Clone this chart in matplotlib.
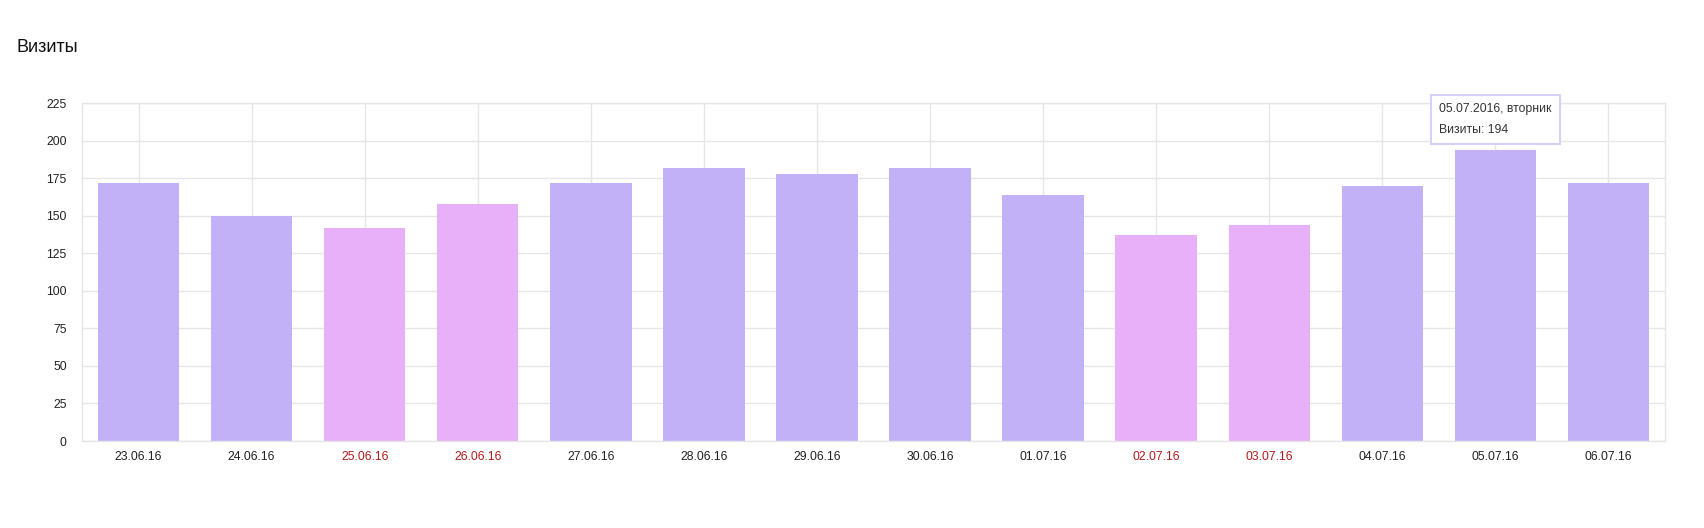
import matplotlib
matplotlib.use('Agg')
import matplotlib.pyplot as plt

plt.rcParams['font.family'] = ['Liberation Sans', 'DejaVu Sans']

# data
dates = ['23.06.16', '24.06.16', '25.06.16', '26.06.16', '27.06.16', '28.06.16', '29.06.16',
         '30.06.16', '01.07.16', '02.07.16', '03.07.16', '04.07.16', '05.07.16', '06.07.16']
visits = [172, 150, 142, 158, 172, 182, 178, 182, 164, 137, 144, 170, 194, 172]
weekend = [False, False, True, True, False, False, False, False, False, True, True, False, False, False]
yticks = [0, 25, 50, 75, 100, 125, 150, 175, 200, 225]

weekday_color = '#c3b1f8'
weekend_color = '#e8b0f8'
grid_color = '#e6e6e6'

fig = plt.figure(figsize=(17.04, 5.28), dpi=100)
ax = fig.add_axes([82 / 1704, 1 - 441 / 528, (1665 - 82) / 1704, (441 - 103) / 528])

x = list(range(len(dates)))
colors = [weekend_color if w else weekday_color for w in weekend]
ax.bar(x, visits, width=0.72, color=colors, zorder=2)

ax.set_xlim(-0.5, len(dates) - 0.5)
ax.set_ylim(0, 225)
ax.set_yticks(yticks)
ax.set_xticks(x)
ax.set_xticklabels(dates)

ax.tick_params(axis='both', length=0, labelsize=8.8, labelcolor='#222222')
ax.tick_params(axis='y', pad=11)
ax.tick_params(axis='x', pad=7)
for lbl, w in zip(ax.get_xticklabels(), weekend):
    lbl.set_color('#b01c1c' if w else '#222222')

ax.grid(True, color=grid_color, linewidth=1, zorder=0)
ax.set_axisbelow(True)
for side in ['left', 'right', 'bottom', 'top']:
    ax.spines[side].set_color(grid_color)
    ax.spines[side].set_linewidth(1)

# tooltip over the hovered bar
i = 12
ax.annotate(f'05.07.2016, вторник\nВизиты: {visits[i]}', xy=(i, visits[i]),
            xytext=(0, 10), textcoords='offset points', ha='center', va='bottom',
            multialignment='left', fontsize=8.8, color='#333333', linespacing=2.0,
            bbox=dict(boxstyle='square,pad=0.65', fc='white', ec='#d8d0f8', lw=1.5),
            zorder=5)

fig.text(17 / 1704, 1 - 48 / 528, 'Визиты', fontsize=13, color='#111111', va='center', ha='left')

fig.savefig('out.png', dpi=100)
